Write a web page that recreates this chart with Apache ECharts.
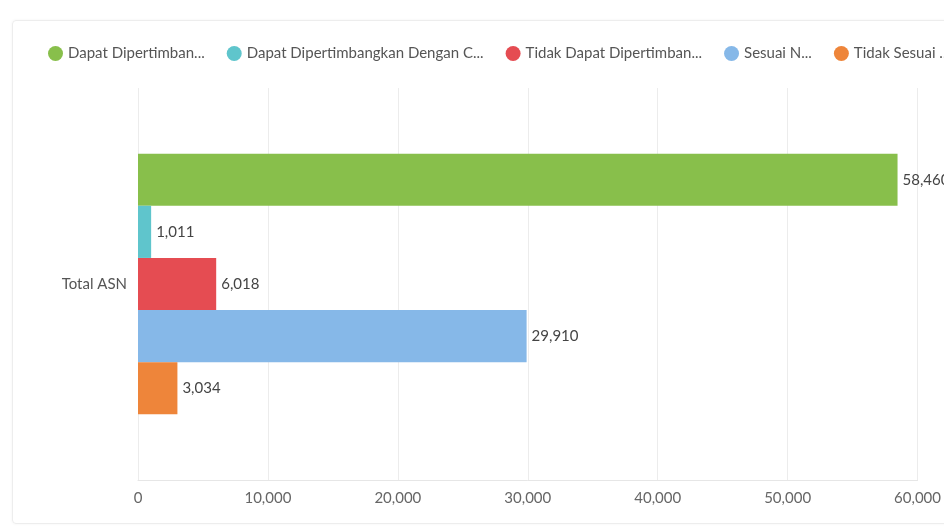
<!DOCTYPE html>
<html>
<head>
<meta charset="utf-8">
<script src="https://cdn.jsdelivr.net/npm/echarts@6/dist/echarts.min.js"></script>
<style>
  html, body { margin: 0; padding: 0; background: #fff; }
  #card {
    position: absolute; left: 12px; top: 20px; width: 960px; height: 502px;
    border: 1px solid #ededed; border-radius: 4px; box-shadow: 0 0 3px rgba(0,0,0,0.05);
  }
  #bar { position: absolute; left: 0; top: 0; width: 944px; height: 528px; }
</style>
</head>
<body>
<div id="card"></div>
<div id="bar"></div>
<script>
// data
const categories = ['Total ASN'];
const seriesNames = [
  'Dapat Dipertimban...',
  'Dapat Dipertimbangkan Dengan C...',
  'Tidak Dapat Dipertimban...',
  'Sesuai N...',
  'Tidak Sesuai ...'
];
const seriesValues = [58460, 1011, 6018, 29910, 3034];
const colors = ['#88bf4b', '#5fc5cc', '#e54c52', '#86b8e8', '#ee853a'];
const xTicks = [0, 60000, 10000]; // min, max, interval

const fmt = v => v.toLocaleString('en-US');

const option = {
  animation: false,
  textStyle: { fontFamily: 'Lato' },
  legend: {
    top: 41,
    left: 43,
    width: 1000,
    icon: 'circle',
    itemWidth: 15,
    itemHeight: 15,
    itemGap: 22,
    textStyle: { fontSize: 15, color: '#555', fontFamily: 'Lato' },
    data: seriesNames
  },
  grid: { left: 138, right: 26, top: 88, bottom: 48 },
  xAxis: {
    type: 'value',
    min: xTicks[0],
    max: xTicks[1],
    interval: xTicks[2],
    axisLine: { show: true, lineStyle: { color: '#e6e6e6' } },
    axisTick: { show: false },
    splitLine: { lineStyle: { color: '#ececec' } },
    axisLabel: {
      margin: 11,
      fontSize: 15,
      color: '#666',
      formatter: v => fmt(v)
    }
  },
  yAxis: {
    type: 'category',
    data: categories,
    axisLine: { show: false },
    axisTick: { show: false },
    axisLabel: { margin: 11, fontSize: 15, color: '#555' }
  },
  series: seriesNames.map((name, i) => ({
    name: name,
    type: 'bar',
    barGap: '0%',
    barCategoryGap: '33.5%',
    itemStyle: { color: colors[i] },
    label: {
      show: true,
      position: 'right',
      distance: 5,
      fontSize: 15,
      color: '#444',
      formatter: p => fmt(p.value)
    },
    data: [seriesValues[i]]
  }))
};

const chart = echarts.init(document.getElementById('bar'));
chart.setOption(option);
</script>
</body>
</html>
